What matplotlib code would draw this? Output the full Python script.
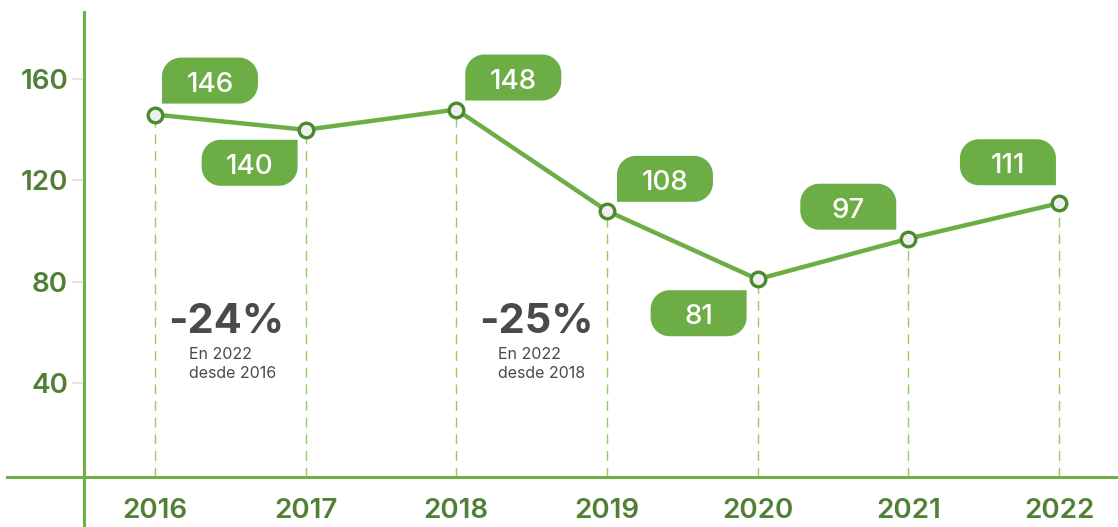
import numpy as np
import matplotlib
matplotlib.use("Agg")
import matplotlib.pyplot as plt
from matplotlib.patches import Polygon
from matplotlib.lines import Line2D
import matplotlib.transforms as mtransforms

# ---- data ----
years = [2016, 2017, 2018, 2019, 2020, 2021, 2022]
values = [146, 140, 148, 108, 81, 97, 111]
y_ticks = [40, 80, 120, 160]
change_labels = ["-24%", "-25%"]
change_line1 = ["En 2022", "En 2022"]
change_line2 = ["desde 2016", "desde 2018"]
change_years = [2016, 2018]

# ---- style ----
GREEN = "#6dad46"
AXIS_GREEN = "#6db146"
DARK_GREEN = "#507f36"
MARKER_EDGE = "#4b8a2d"
DASH_GREEN = "#8fcf5f"
GREY_TEXT = "#4a4a4a"

plt.rcParams["font.family"] = ["Inter", "DejaVu Sans"]

W, H = 1118, 527
fig = plt.figure(figsize=(W / 100, H / 100), dpi=100)
ax = fig.add_axes([84 / W, (H - 477) / H, (W - 84) / W, (477 - 12) / H])
ax.set_xlim(2015.529, 2022.392)
ax.set_ylim(2.92, 186.5)
for s in ax.spines.values():
    s.set_visible(False)
ax.patch.set_alpha(0)

# axis lines
fig.add_artist(Line2D([84 / W, 84 / W], [0, (H - 12) / H], color=AXIS_GREEN, lw=2.2,
                      transform=fig.transFigure))
fig.add_artist(Line2D([7 / W, 1], [(H - 477) / H, (H - 477) / H], color=AXIS_GREEN, lw=2.2,
                      transform=fig.transFigure))

# ticks
ax.set_yticks(y_ticks)
ax.set_yticklabels([str(t) for t in y_ticks])
ax.tick_params(axis="y", length=8.5, width=1.1, color="#dcdcdc", pad=3,
               labelsize=20, labelcolor=DARK_GREEN)
ax.set_xticks(years)
ax.set_xticklabels([str(y) for y in years])
ax.tick_params(axis="x", length=0, pad=15, labelsize=20, labelcolor=DARK_GREEN)
for lab in ax.get_yticklabels() + ax.get_xticklabels():
    lab.set_fontweight("semibold")

# dashed drop lines
ax.vlines(years, ax.get_ylim()[0], values, colors=DASH_GREEN, lw=1.0,
          linestyles=(0, (7, 5)), zorder=1)

# main line
ax.plot(years, values, color=GREEN, lw=3.2, zorder=3, solid_capstyle="round")
ax.plot(years, values, ls="none", marker="o", ms=10.5, mew=2.4,
        mfc="#efefef", mec=MARKER_EDGE, zorder=4)

# value tags: near-corner offset from the point (px at 100 dpi)
tag_corner = [(7, 11), (-8, -10), (9, 9), (10, 9), (-11, -11), (-12, 9), (-3, 18)]
TAG_W, TAG_H, TAG_R = 96, 46, 19


def tag_outline(w, h, r, square):
    """Rounded rectangle (0..w, 0..h) with one square corner."""
    corners = {"ll": (0, 0), "lr": (w, 0), "ur": (w, h), "ul": (0, h)}
    centers = {"ll": (r, r), "lr": (w - r, r), "ur": (w - r, h - r), "ul": (r, h - r)}
    starts = {"ll": 180, "lr": 270, "ur": 0, "ul": 90}
    pts = []
    for key in ["ll", "lr", "ur", "ul"]:
        if key == square:
            pts.append(corners[key])
        else:
            cx, cy = centers[key]
            a = np.radians(np.linspace(starts[key], starts[key] + 90, 16))
            pts.extend(zip(cx + r * np.cos(a), cy + r * np.sin(a)))
    return np.array(pts)


for x, v, (cx, cy) in zip(years, values, tag_corner):
    x0 = cx if cx > 0 else cx - TAG_W
    y0 = cy if cy > 0 else cy - TAG_H
    square = ("l" if cy > 0 else "u") + ("l" if cx > 0 else "r")
    outline = tag_outline(TAG_W, TAG_H, TAG_R, square) + np.array([x0, y0])
    tr = (mtransforms.Affine2D().scale(fig.dpi / 100.0)
          + mtransforms.ScaledTranslation(x, v, ax.transData))
    ax.add_patch(Polygon(outline, closed=True, facecolor=GREEN, edgecolor="none",
                         transform=tr, zorder=5, clip_on=False))
    ttr = ax.transData + mtransforms.ScaledTranslation(
        (x0 + TAG_W / 2) / 100, (y0 + TAG_H / 2 - 1) / 100, fig.dpi_scale_trans)
    ax.text(x, v, str(v), transform=ttr, ha="center", va="center_baseline",
            color="white", fontsize=20, fontweight="medium", zorder=6)

# change callouts
big_dx = [0.086, 0.15]
note_dx = [0.226, 0.279]
for yr, big, l1, l2, bdx, ndx in zip(change_years, change_labels, change_line1,
                                     change_line2, big_dx, note_dx):
    ax.text(yr + bdx, 59.9, big, ha="left", va="baseline", fontsize=30,
            fontweight="bold", color=GREY_TEXT)
    ax.text(yr + ndx, 49.6, l1, ha="left", va="baseline", fontsize=11.5,
            color=GREY_TEXT)
    ax.text(yr + ndx, 42.1, l2, ha="left", va="baseline", fontsize=11.5,
            color=GREY_TEXT)

fig.savefig("out.png", dpi=100)
